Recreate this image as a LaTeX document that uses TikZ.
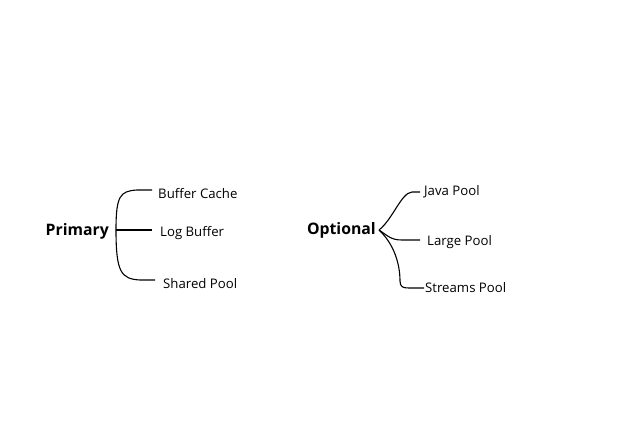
\documentclass[tikz,border=0pt]{standalone}
\usepackage{fontspec}
\setmainfont{Open Sans}
\begin{document}
\begin{tikzpicture}[x=1pt,y=-1pt,
  root/.style={font=\fontsize{15.8}{18}\selectfont\bfseries, inner xsep=6pt, inner ysep=0pt, anchor=base east},
  leaf/.style={font=\fontsize{13.2}{16}\selectfont, inner ysep=0pt, anchor=base west},
  branch/.style={draw=black, line width=1.1pt}]
\fill[white] (0,0) rectangle (640,428);
\useasboundingbox (0,0) rectangle (640,428);
\node[root, inner xsep=7pt] (primary) at (116,235) {Primary};
\coordinate (p) at (116,230);
\node[leaf, inner xsep=6pt] (bc) at (152,198) {Buffer Cache};
\node[leaf, inner xsep=8pt] (lb) at (152,236) {Log Buffer};
\node[leaf, inner xsep=8pt] (sp) at (155,288) {Shared Pool};
\draw[branch] (p) .. controls (116,196) and (120,191) .. (137,190) -- (bc.west |- 0,190);
\draw[branch] (p) -- (lb.west |- 0,230);
\draw[branch] (p) .. controls (116,272) and (121,279) .. (140,280) -- (sp.west |- 0,280);
\node[root, inner xsep=3pt] (optional) at (379,234) {Optional};
\coordinate (o) at (379,230);
\node[leaf, inner xsep=4pt] (jp) at (420,195) {Java Pool};
\node[leaf, inner xsep=7pt] (lp) at (420,245) {Large Pool};
\node[leaf, inner xsep=1pt] (stp) at (424,292) {Streams Pool};
\draw[branch] (o) .. controls (393,219) and (401,193) .. (412,192) -- (jp.west |- 0,192);
\draw[branch] (o) .. controls (388,236) and (391,240) .. (402,240) -- (lp.west |- 0,240);
\draw[branch] (o) .. controls (394,244) and (400,264) .. (400,281) .. controls (400,287) and (403,288) .. (409,288) -- (stp.west |- 0,288);
\end{tikzpicture}
\end{document}
